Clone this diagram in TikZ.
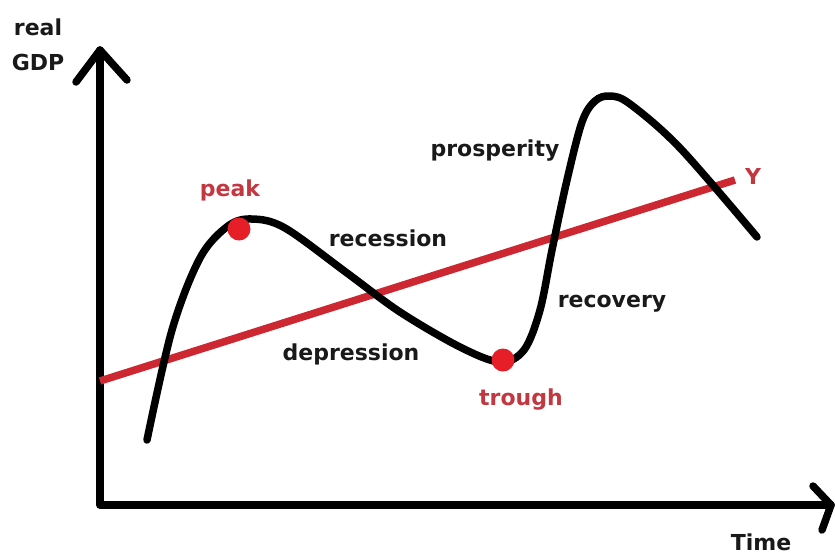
\documentclass[tikz,border=0pt]{standalone}
\usepackage{fontspec}
\setmainfont{DejaVu Sans}
\definecolor{redline}{RGB}{205,40,50}
\definecolor{redlabel}{RGB}{195,55,65}
\definecolor{reddot}{RGB}{230,30,40}
\definecolor{ink}{RGB}{25,25,25}
\begin{document}
\begin{tikzpicture}[x=1pt,y=-1pt,
  axis/.style={line width=7.5pt,line cap=round,line join=round,black},
  lbl/.style={font=\bfseries\fontsize{22}{26}\selectfont,text=ink,inner sep=0pt},
  rlbl/.style={lbl,text=redlabel},
  dot/.style={circle,fill=reddot,inner sep=0pt,minimum size=23pt}]
\useasboundingbox (0,0) rectangle (835,558);
% axes
\coordinate (O) at (100,505);
\coordinate (ytop) at (100,50);
\coordinate (yl) at (76,82);
\coordinate (yr) at (127,80);
\coordinate (xend) at (831,505);
\coordinate (xu) at (813,486);
\coordinate (xd) at (822,530);
\draw[axis] (ytop) -- (O) -- (xend);
\draw[axis] (yl) -- (ytop) -- (yr);
\draw[axis] (xu) -- (xend) -- (xd);
% trend line
\coordinate (ys) at (100,381);
\coordinate (ye) at (735,180);
\draw[line width=7.5pt,redline] (ys) -- (ye);
% cycle curve
\draw[line width=7.5pt,line cap=round,black] plot[smooth,tension=0.55] coordinates {
 (147,440) (172,330) (200,258) (228,226) (252,219) (285,228) (347,273) (400,312)
 (460,347) (500,362) (524,350) (540,310) (552,250) (567,180) (582,122) (595,101)
 (610,96) (630,104) (680,148) (757,237)};
\node[dot] (peak) at (239,229) {};
\node[dot] (trough) at (503,360) {};
% labels
\node[lbl] (real) at (38,27) {real};
\node[lbl] (gdp) at (38,62) {GDP};
\node[lbl] (time) at (761,542) {Time};
\node[rlbl] (peakl) at (230,190) {peak};
\node[lbl] (rec) at (388,238) {recession};
\node[lbl] (pros) at (495,151) {prosperity};
\node[lbl] (dep) at (351,354) {depression};
\node[rlbl] (tr) at (521,400) {trough};
\node[lbl] (recov) at (612,304) {recovery};
\node[rlbl] (Y) at (753,176) {Y};
\end{tikzpicture}
\end{document}
